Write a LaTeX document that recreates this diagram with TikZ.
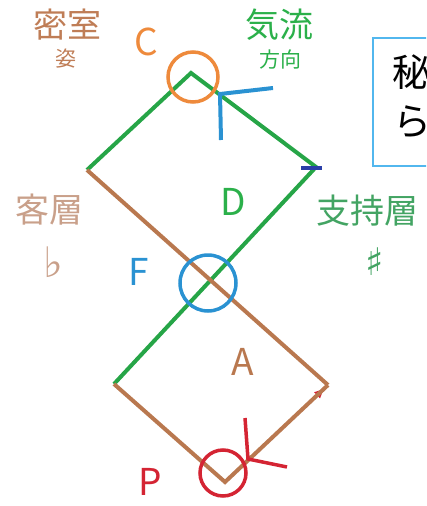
\documentclass[tikz,border=0pt]{standalone}
\usepackage{fontspec}
\setmainfont{Noto Sans CJK JP}
\newfontfamily\symfont{DejaVu Sans}
\usetikzlibrary{arrows.meta}

\definecolor{lineGreen}{HTML}{26A547}
\definecolor{lineBrown}{HTML}{B9784F}
\definecolor{ringOrange}{HTML}{EE8A3C}
\definecolor{ringBlue}{HTML}{2A92D2}
\definecolor{ringRed}{HTML}{D42433}
\definecolor{tickNavy}{HTML}{2B3FA8}
\definecolor{textTan}{HTML}{BF7D56}
\definecolor{textPale}{HTML}{C9A08A}
\definecolor{textGreen}{HTML}{2BB04A}
\definecolor{textMoss}{HTML}{43A463}
\definecolor{boxBlue}{HTML}{52B7EE}

\begin{document}
\begin{tikzpicture}[x=1pt,y=-1pt,
  big/.style={inner sep=0pt,font=\fontsize{34}{34}\selectfont},
  small/.style={inner sep=0pt,font=\fontsize{21}{21}\selectfont},
  letter/.style={inner sep=0pt,font=\fontsize{37}{37}\selectfont},
  greenline/.style={lineGreen,line width=4pt,line join=miter},
  brownline/.style={lineBrown,line width=4pt,line join=miter},
  ring/.style={line width=3.5pt,fill=none}]
\clip (0,0) rectangle (426,506);

% Corners of the two squares
\coordinate (c)  at (191,73);
\coordinate (ul) at (87,170);
\coordinate (ur) at (316,167);
\coordinate (ll) at (114,384);
\coordinate (lr) at (328,385);
\coordinate (p)  at (225,482);

% Green path
\draw[greenline] (ul) -- (c) -- (ur) -- (ll);

% Brown path, with the red tip at the right corner
\draw[ringRed,line width=2pt,-{Latex[length=11pt,width=9pt]},shorten >=4pt] (p) -- (lr);
\draw[brownline] (ul) -- (lr);
\draw[brownline] (ll) -- (p) -- (lr);

% Rings
\draw[ring,ringOrange] (193,77) circle (25);
\draw[ring,ringBlue] (208,283) circle (28);
\draw[ring,ringRed] (223,473) circle (23);

% Ticks
\coordinate (bt1) at (273,88);
\coordinate (bt0) at (220,94);
\coordinate (bt2) at (221,140);
\draw[ringBlue,line width=4pt] (bt1) -- (bt0) -- (bt2);
\coordinate (rt1) at (245,418);
\coordinate (rt0) at (248,459);
\coordinate (rt2) at (287,467);
\draw[ringRed,line width=3.5pt] (rt1) -- (rt0) -- (rt2);
\coordinate (nt1) at (301,168);
\coordinate (nt2) at (322,168);
\draw[tickNavy,line width=3.5pt] (nt1) -- (nt2);

% Letters
\node[letter,ringOrange] (lc) at (146,42) {C};
\node[letter,textGreen] (ld) at (233,202) {D};
\node[letter,ringBlue] (lf) at (139,272) {F};
\node[letter,lineBrown] (la) at (243,362) {A};
\node[letter,ringRed] (lp) at (150,482) {P};

% Words
\node[big,textTan] (misshitsu) at (67,25) {密室};
\node[small,textTan] (shi) at (66,59) {姿};
\node[big,textGreen] (kiryu) at (279,25) {気流};
\node[small,textGreen] (hoko) at (280,60) {方向};
\node[big,textPale] (kyaku) at (49,210) {客層};
\node[inner sep=0pt,textPale,font=\symfont\fontsize{42}{42}\selectfont] (flat) at (53,262) {♭};
\node[inner sep=0pt,textMoss,font=\symfont\fontsize{38}{38}\selectfont] (sharp) at (375,262) {♯};
\node[big,textMoss] (shiji) at (367,211) {支持層};

% Box at the right edge
\draw[boxBlue,line width=2pt] (373,38) rectangle (450,166);
\node[inner sep=0pt,font=\fontsize{38}{38}\selectfont] (hi) at (411,72) {秘};
\node[inner sep=0pt,font=\fontsize{38}{38}\selectfont] (ra) at (412,122) {ら};
\end{tikzpicture}
\end{document}
